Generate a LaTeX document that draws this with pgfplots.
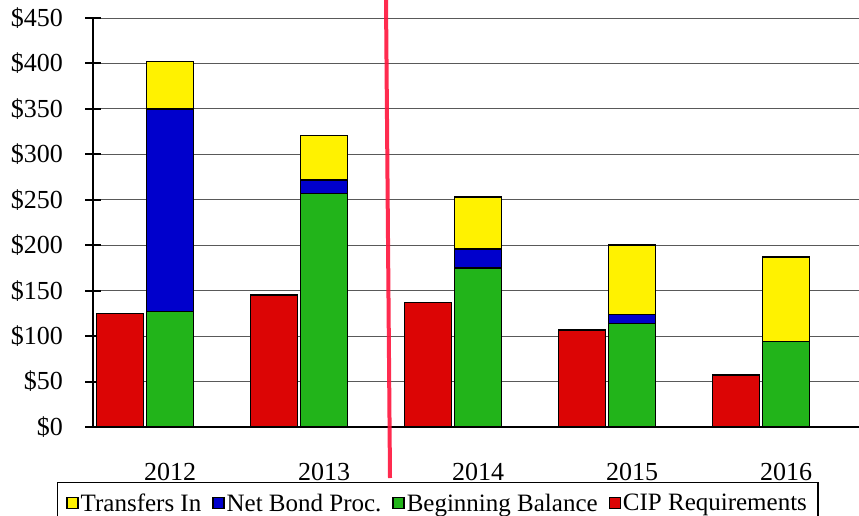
\documentclass[border=0pt]{standalone}
\usepackage{fontspec}
\setmainfont{Liberation Serif}
\usepackage{pgfplots}
\pgfplotsset{compat=1.18}
\definecolor{cYel}{RGB}{255,242,0}
\definecolor{cBlu}{RGB}{0,0,204}
\definecolor{cGre}{RGB}{34,180,26}
\definecolor{cRed}{RGB}{220,5,5}
\definecolor{cLine}{RGB}{255,20,60}
\begin{document}
\begin{tikzpicture}
\pgfplotsset{
  common/.style={
    scale only axis, width=766pt, height=409pt,
    xmin=-0.5, xmax=4.474, ymin=0, ymax=450,
    bar width=47pt,
  },
}
\begin{axis}[common,
  ybar, bar shift=0pt,
  axis x line*=bottom, axis y line*=left,
  axis line style={line width=2.5pt, -},
  ytick={0,50,...,450},
  yticklabel={\$\pgfmathprintnumber{\tick}},
  /pgf/number format/assume math mode=true,
  ymajorgrids, grid style={black!65, line width=1pt},
  tick align=center, major tick length=15pt,
  ytick style={line width=2pt, black},
  xtick={0,1,2,3,4}, xticklabels={2012,2013,2014,2015,2016},
  xtick style={draw=none},
  tick label style={font=\fontsize{26}{28}\selectfont},
  xticklabel style={yshift=-25pt},
  yticklabel style={xshift=-19pt},
]
\addplot[fill=cRed, draw=black, line width=1.5pt] coordinates {(-0.325,125) (0.675,145) (1.675,137) (2.675,107) (3.675,57)};
\end{axis}
\begin{axis}[common,
  ybar stacked,
  hide axis,
  legend image code/.code={\draw[#1, line width=1.3pt] (0pt,-5.5pt) rectangle (11pt,5.5pt);},
  legend columns=4,
  legend style={at={(0.45,-0.134)}, anchor=north, draw=black, line width=1.5pt,
    font=\fontsize{25}{27}\selectfont, inner xsep=9pt, inner ysep=9pt,
    /tikz/every even column/.append style={column sep=9pt}},
]
\addlegendimage{fill=cYel, draw=black}
\addlegendentry{Transfers In}
\addlegendimage{fill=cBlu, draw=black}
\addlegendentry{Net Bond Proc.}
\addlegendimage{fill=cGre, draw=black}
\addlegendentry{Beginning Balance}
\addlegendimage{fill=cRed, draw=black}
\addlegendentry{CIP Requirements}
\addplot[forget plot, fill=cGre, draw=black, line width=1.5pt] coordinates {(0,127) (1,257) (2,175) (3,114) (4,94)};
\addplot[forget plot, fill=cBlu, draw=black, line width=1.5pt] coordinates {(0,223) (1,15) (2,21) (3,10) (4,0)};
\addplot[forget plot, fill=cYel, draw=black, line width=1.5pt] coordinates {(0,52) (1,49) (2,57) (3,76) (4,93)};
\end{axis}
\draw[cLine, line width=4pt, opacity=0.9] (293pt,427pt) -- (297pt,-51pt);
\pgfresetboundingbox
\useasboundingbox (-93pt,-88pt) rectangle (766pt,427pt);
\end{tikzpicture}
\end{document}
